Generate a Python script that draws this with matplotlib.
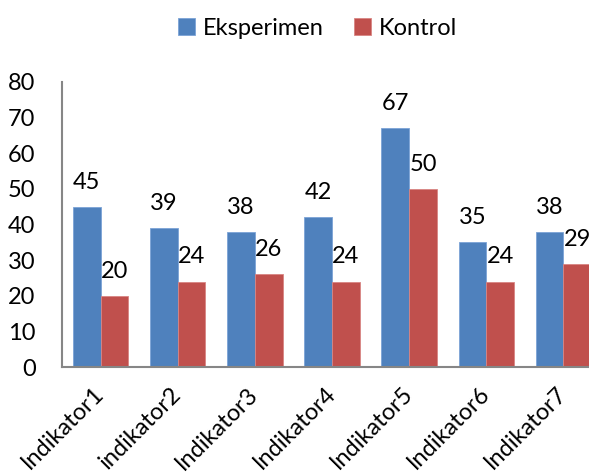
import matplotlib.pyplot as plt
import numpy as np

categories = ['Indikator1', 'indikator2', 'Indikator3', 'Indikator4',
              'Indikator5', 'Indikator6', 'Indikator7']
eksperimen = [45, 39, 38, 42, 67, 35, 38]
kontrol = [20, 24, 26, 24, 50, 24, 29]

plt.rcParams['font.family'] = ['Lato', 'DejaVu Sans']
FS = 17

fig = plt.figure(figsize=(5.89, 4.75), dpi=100)
# plot area runs a little past the right edge, like the source
ax = fig.add_axes([62 / 589, 108 / 475, 540 / 589, 285 / 475])

x = np.arange(len(categories))
w = 0.36
b1 = ax.bar(x - w / 2, eksperimen, w, color='#4F81BD', edgecolor='#7BA3D6', linewidth=0.6, label='Eksperimen')
b2 = ax.bar(x + w / 2, kontrol, w, color='#C0504D', edgecolor='#D98583', linewidth=0.6, label='Kontrol')

for bars, vals in ((b1, eksperimen), (b2, kontrol)):
    for r, v in zip(bars, vals):
        ax.annotate(str(v), (r.get_x() + r.get_width() / 2, v), xytext=(0, 13),
                    textcoords='offset points', ha='center', va='baseline', fontsize=FS)

ax.set_xlim(-0.5, len(categories) - 0.5)
ax.set_ylim(0, 80)
ax.set_yticks(range(0, 81, 10))
ax.tick_params(axis='y', length=0, pad=19, labelsize=FS)
ax.tick_params(axis='x', length=0, pad=17, labelsize=FS)
ax.set_xticks(x)
ax.set_xticklabels(categories, rotation=45, ha='right', va='center', rotation_mode='anchor')

for s in ('top', 'right'):
    ax.spines[s].set_visible(False)
for s in ('left', 'bottom'):
    ax.spines[s].set_color('#868686')
    ax.spines[s].set_linewidth(1.5)

fig.legend(loc='center', bbox_to_anchor=(0.539, 0.941), ncol=2, frameon=False,
           fontsize=FS, handlelength=0.72, handleheight=0.72, handletextpad=0.32,
           columnspacing=1.3, borderpad=0)

fig.savefig('out.png', dpi=100)
